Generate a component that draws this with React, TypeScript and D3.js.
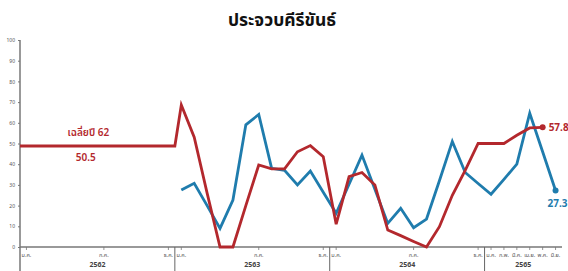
import React, { useEffect, useRef } from 'react';
import * as d3 from 'd3';

const title = 'ประจวบคีรีขันธ์';
const years = ['2562', '2563', '2564', '2565'];
const monthsPerYear = [12, 12, 12, 6];
const thaiMonths = ['ม.ค.', 'ก.พ.', 'มี.ค.', 'เม.ย.', 'พ.ค.', 'มิ.ย.', 'ก.ค.', 'ส.ค.', 'ก.ย.', 'ต.ค.', 'พ.ย.', 'ธ.ค.'];
const yTicks = [0, 10, 20, 30, 40, 50, 60, 70, 80, 90, 100];

// 2562 shown as a single yearly average
const redAvg62 = 48.8;
const redAvg62Label = 'เฉลี่ยปี 62';
const redAvg62Value = '50.5';

// monthly values from ม.ค. 2563
const redMonthly = [
  68.6, 53, 26, 0, 0, 20, 39.6, 37.7, 37.7, 46, 49, 43.6,
  11, 34, 36, 30, 8.2, 5.5, 2.7, 0, 9.8, 25, 37, 50,
  50, 50, 54, 57.5, 57.8,
];
const blueMonthly = [
  27.5, 30.8, 20, 9, 22.7, 59, 64, 38, 37, 30, 36.7, 26.5,
  16.3, 30.3, 44.4, 27.9, 11.4, 18.7, 9.3, 13.5, 32, 51, 36, 30.7,
  25.5, 32.7, 40, 64.6, 46, 27.3,
];

const RED = '#b3282d';
const BLUE = '#1f7cad';
const FONT = '"Noto Sans Thai", "Noto Sans", sans-serif';

export default function App() {
  const svgRef = useRef<SVGSVGElement>(null);
  const width = 568;
  const height = 271;

  useEffect(() => {
    if (!svgRef.current) return;
    const svg = d3.select(svgRef.current);
    svg.selectAll('*').remove();

    const totalMonths = d3.sum(monthsPerYear);
    const x = d3.scaleLinear().domain([0, totalMonths]).range([20, 562]);
    const y = d3.scaleLinear().domain([0, 100]).range([247, 40]);
    const start63 = monthsPerYear[0];

    svg.append('text')
      .attr('x', 282).attr('y', 26)
      .attr('text-anchor', 'middle')
      .attr('font-family', FONT)
      .attr('font-size', 17.5).attr('font-weight', 700)
      .attr('fill', '#111')
      .text(title);

    // y axis
    const yAxis = svg.append('g')
      .attr('transform', `translate(${x(0)},0)`)
      .call(d3.axisLeft(y).tickValues(yTicks).tickSize(2).tickPadding(3));
    yAxis.select('.domain').attr('stroke', '#777').attr('stroke-width', 1.5).attr('d', `M0,${y(100)}V${height}`);
    yAxis.selectAll('.tick line').attr('stroke', '#777');
    yAxis.selectAll('text').attr('font-size', 5).attr('fill', '#555').attr('font-family', FONT);

    // x axis baseline
    svg.append('line')
      .attr('x1', x(0)).attr('x2', x(totalMonths))
      .attr('y1', y(0)).attr('y2', y(0))
      .attr('stroke', '#777').attr('stroke-width', 1.5);

    // year bands, month ticks
    let offset = 0;
    years.forEach((yr, i) => {
      const n = monthsPerYear[i];
      const labelled = n === 12 ? [0, 6, 11] : d3.range(n);
      labelled.forEach(m => {
        const cx = x(offset + m + 0.5);
        svg.append('line')
          .attr('x1', cx).attr('x2', cx)
          .attr('y1', y(0)).attr('y2', y(0) + 3)
          .attr('stroke', '#777').attr('stroke-width', 0.8);
        svg.append('text')
          .attr('x', cx).attr('y', y(0) + 10)
          .attr('text-anchor', 'middle')
          .attr('font-family', FONT).attr('font-size', 5.5)
          .attr('fill', '#555')
          .text(thaiMonths[m]);
      });
      if (i > 0) {
        svg.append('line')
          .attr('x1', x(offset)).attr('x2', x(offset))
          .attr('y1', y(0)).attr('y2', height)
          .attr('stroke', '#666').attr('stroke-width', 1);
      }
      svg.append('text')
        .attr('x', x(offset + n / 2)).attr('y', y(0) + 20)
        .attr('text-anchor', 'middle')
        .attr('font-family', FONT).attr('font-size', 7).attr('font-weight', 700)
        .attr('fill', '#444')
        .text(yr);
      offset += n;
    });

    const line = d3.line<[number, number]>().x(d => d[0]).y(d => d[1]);

    const redPts: [number, number][] = [
      [x(0), y(redAvg62)],
      [x(start63), y(redAvg62)],
      ...redMonthly.map((v, i) => [x(start63 + i + 0.5), y(v)] as [number, number]),
    ];
    const bluePts: [number, number][] = blueMonthly.map((v, i) => [x(start63 + i + 0.5), y(v)] as [number, number]);

    svg.append('path')
      .attr('d', line(bluePts))
      .attr('fill', 'none').attr('stroke', BLUE)
      .attr('stroke-width', 2.8).attr('stroke-linejoin', 'miter');
    svg.append('path')
      .attr('d', line(redPts))
      .attr('fill', 'none').attr('stroke', RED)
      .attr('stroke-width', 2.8).attr('stroke-linejoin', 'miter');

    const redEnd = redPts[redPts.length - 1];
    const blueEnd = bluePts[bluePts.length - 1];
    svg.append('circle').attr('cx', redEnd[0]).attr('cy', redEnd[1]).attr('r', 3).attr('fill', RED);
    svg.append('circle').attr('cx', blueEnd[0]).attr('cy', blueEnd[1]).attr('r', 3).attr('fill', BLUE);

    svg.append('text')
      .attr('x', redEnd[0] + 6).attr('y', redEnd[1] + 3.5)
      .attr('font-family', FONT).attr('font-size', 10).attr('font-weight', 700)
      .attr('fill', RED)
      .text(redMonthly[redMonthly.length - 1].toFixed(1));
    svg.append('text')
      .attr('x', blueEnd[0] + 2).attr('y', blueEnd[1] + 17)
      .attr('text-anchor', 'middle')
      .attr('font-family', FONT).attr('font-size', 10).attr('font-weight', 700)
      .attr('fill', BLUE)
      .text(blueMonthly[blueMonthly.length - 1].toFixed(1));

    // 2562 average annotation
    svg.append('text')
      .attr('x', x(5.3)).attr('y', y(redAvg62) - 10)
      .attr('text-anchor', 'middle')
      .attr('font-family', FONT).attr('font-size', 10).attr('font-weight', 600)
      .attr('fill', RED)
      .text(redAvg62Label);
    svg.append('text')
      .attr('x', x(5.1)).attr('y', y(redAvg62) + 15)
      .attr('text-anchor', 'middle')
      .attr('font-family', FONT).attr('font-size', 10).attr('font-weight', 600)
      .attr('fill', RED)
      .text(redAvg62Value);
  }, []);

  return (
    <svg
      ref={svgRef}
      width={width}
      height={height}
      style={{ position: 'absolute', left: 0, top: 0, background: '#fff' }}
    />
  );
}
